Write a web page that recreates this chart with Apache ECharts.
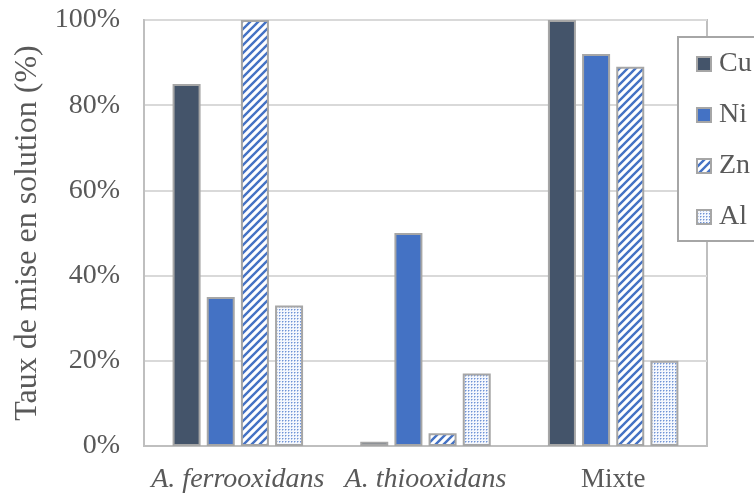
<!DOCTYPE html>
<html><head><meta charset="utf-8">
<script src="https://cdn.jsdelivr.net/npm/echarts@6/dist/echarts.min.js"></script>
<style>html,body{margin:0;padding:0;background:#fff}#c{width:754px;height:495px}</style>
</head><body><div id="c"></div>
<script>
const categories = ['A. ferrooxidans', 'A. thiooxidans', 'Mixte'];
const seriesNames = ['Cu', 'Ni', 'Zn', 'Al'];
const cuValues = [85, 1, 100];
const niValues = [35, 50, 92];
const znValues = [100, 3, 89];
const alValues = [33, 17, 20];
const yTicks = [0, 20, 40, 60, 80, 100];

function stripePattern() {
  const s = 8;
  const c = document.createElement('canvas');
  c.width = s; c.height = s;
  const g = c.getContext('2d');
  g.fillStyle = '#fff'; g.fillRect(0, 0, s, s);
  g.strokeStyle = '#4472c4'; g.lineWidth = 2.4;
  g.beginPath();
  g.moveTo(-1, s + 1); g.lineTo(s + 1, -1);
  g.moveTo(-1, 1); g.lineTo(1, -1);
  g.moveTo(s - 1, s + 1); g.lineTo(s + 1, s - 1);
  g.stroke();
  return c;
}
function dotPattern() {
  const s = 3;
  const c = document.createElement('canvas');
  c.width = s; c.height = s;
  const g = c.getContext('2d');
  g.fillStyle = '#f4f7fd'; g.fillRect(0, 0, s, s);
  g.fillStyle = '#6f93d6'; g.fillRect(0, 0, 1, 1);
  g.fillStyle = '#b4c7ea'; g.fillRect(1, 0, 1, 1); g.fillRect(0, 1, 1, 1);
  return c;
}

const border = { borderColor: '#a6a6a6', borderWidth: 2 };
const fills = [
  '#44546a',
  '#4472c4',
  { image: stripePattern(), repeat: 'repeat' },
  { image: dotPattern(), repeat: 'repeat' }
];
const dataSets = [cuValues, niValues, znValues, alValues];
const FONT = 'Liberation Serif';

const chart = echarts.init(document.getElementById('c'), null, { renderer: 'canvas' });
chart.setOption({
  animation: false,
  backgroundColor: '#fff',
  textStyle: { fontFamily: FONT },
  grid: { left: 144, top: 20, right: 47, bottom: 49, show: true, borderColor: '#bfbfbf', borderWidth: 2, z: 0 },
  legend: {
    orient: 'vertical',
    left: 678, top: 37,
    padding: [13, 60, 10, 18],
    backgroundColor: '#fff',
    borderColor: '#a6a6a6', borderWidth: 2,
    itemWidth: 14, itemHeight: 14, itemGap: 23,
    icon: 'rect',
    textStyle: { fontFamily: FONT, fontSize: 28, color: '#595959', lineHeight: 28, padding: [0, 0, 0, 3] },
    data: seriesNames
  },
  xAxis: {
    type: 'category',
    data: categories,
    axisLine: { show: true, lineStyle: { color: '#bfbfbf', width: 2 } },
    axisTick: { show: false },
    axisLabel: {
      interval: 0,
      margin: 20,
      color: '#595959',
      fontFamily: FONT,
      fontSize: 28,
      formatter: function (v) { return v === 'Mixte' ? '{n|' + v + '}' : '{i|' + v + '}'; },
      rich: {
        i: { fontStyle: 'italic', fontSize: 28, color: '#595959', fontFamily: FONT },
        n: { fontSize: 27, color: '#595959', fontFamily: FONT }
      }
    }
  },
  yAxis: {
    type: 'value',
    min: yTicks[0], max: yTicks[yTicks.length - 1], interval: 20,
    name: 'Taux de mise en solution (%)',
    nameLocation: 'middle',
    nameGap: 100,
    nameTextStyle: { fontSize: 32, color: '#595959', fontFamily: FONT },
    axisLine: { show: true, lineStyle: { color: '#bfbfbf', width: 2 } },
    axisTick: { show: false },
    splitLine: { lineStyle: { color: '#d9d9d9', width: 2 } },
    axisLabel: { margin: 24, color: '#595959', fontSize: 28, fontFamily: FONT, formatter: '{value}%' }
  },
  series: seriesNames.map(function (n, i) {
    return {
      name: n,
      type: 'bar',
      data: dataSets[i],
      barWidth: 28,
      barGap: '22%',
      itemStyle: Object.assign({ color: fills[i] }, border)
    };
  })
});
</script></body></html>
